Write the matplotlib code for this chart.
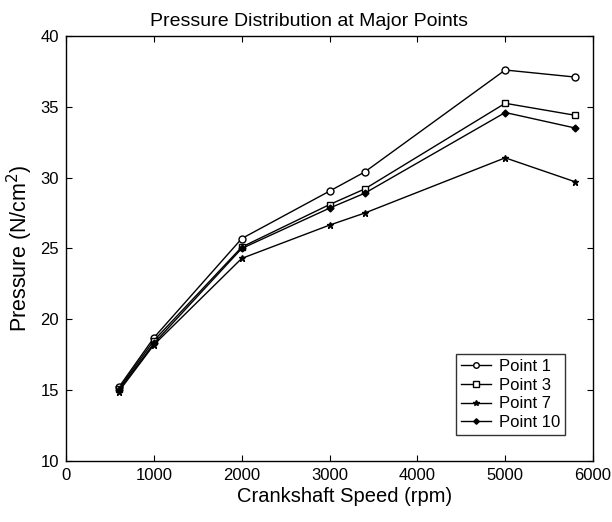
import matplotlib
matplotlib.use("Agg")
import matplotlib.pyplot as plt

plt.rcParams["font.family"] = ["Liberation Sans", "DejaVu Sans"]

speed = [600, 1000, 2000, 3000, 3400, 5000, 5800]
point1 = [15.2, 18.7, 25.7, 29.05, 30.4, 37.6, 37.1]
point3 = [15.1, 18.5, 25.1, 28.1, 29.2, 35.25, 34.4]
point7 = [14.9, 18.2, 24.3, 26.65, 27.5, 31.4, 29.7]
point10 = [15.0, 18.3, 25.0, 27.85, 28.9, 34.6, 33.5]

series = [
    ("Point 1", point1, dict(marker="o", markersize=5, markerfacecolor="white")),
    ("Point 3", point3, dict(marker="s", markersize=5, markerfacecolor="white")),
    ("Point 7", point7, dict(marker="*", markersize=5, markerfacecolor="black")),
    ("Point 10", point10, dict(marker="D", markersize=3.5, markerfacecolor="black")),
]

fig = plt.figure(figsize=(6.12, 5.22), dpi=100)
ax = fig.add_axes([0.108, 0.117, 0.861, 0.814])

for label, vals, style in series:
    ax.plot(speed, vals, color="black", linewidth=1.0, markeredgecolor="black",
            markeredgewidth=1.0, label=label, **style)

ax.set_xlim(0, 6000)
ax.set_ylim(10, 40)
ax.set_xticks(range(0, 6001, 1000))
ax.set_yticks(range(10, 41, 5))
ax.tick_params(direction="in", top=True, right=True, labelsize=12, length=4, width=0.8, pad=5)
for s in ax.spines.values():
    s.set_linewidth(1.0)

ax.set_xlabel("Crankshaft Speed (rpm)", fontsize=14.5)
ax.xaxis.set_label_coords(0.528, -0.062)
ax.set_ylabel("Pressure (N/cm$^{2}$)", fontsize=15.5, labelpad=4)
ax.set_title("Pressure Distribution at Major Points", fontsize=14, pad=7, x=0.461)

leg = ax.legend(loc="lower right", bbox_to_anchor=(0.947, 0.061), borderaxespad=0,
                fontsize=12, frameon=True, fancybox=False, edgecolor="black",
                handlelength=1.8, labelspacing=0.22, handletextpad=0.5,
                borderpad=0.3, markerscale=0.8)
leg.get_frame().set_linewidth(1.0)

fig.savefig("out.png", dpi=100, facecolor="white")
